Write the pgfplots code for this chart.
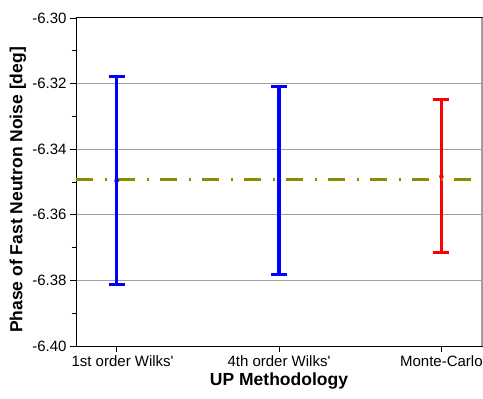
\documentclass[border=0pt]{standalone}
\usepackage{fontspec}
\setmainfont{Liberation Sans}
\usepackage{pgfplots}
\pgfplotsset{compat=1.18}
\usetikzlibrary{calc}
\definecolor{olivedd}{RGB}{140,140,0}
\definecolor{gridgray}{RGB}{160,160,160}
\begin{document}
\begin{tikzpicture}
\begin{axis}[
  scale only axis, width=406bp, height=328bp,
  xmin=-0.25, xmax=2.25, ymin=-6.40, ymax=-6.30,
  clip=false,
  xtick={0,1,2},
  xticklabels={{\hspace*{12bp}1st order Wilks\textquotesingle},{4th order Wilks\textquotesingle},{Monte-Carlo}},
  ytick={-6.40,-6.38,-6.36,-6.34,-6.32,-6.30},
  minor ytick={-6.39,-6.37,-6.35,-6.33,-6.31},
  ymajorgrids,
  major grid style={gridgray, line width=1bp},
  tick align=outside, major tick length=6bp, minor tick length=4bp,
  tick style={black, line width=0.8bp},
  xtick pos=bottom, ytick pos=left,
  axis line style={black, line width=1bp},
  ticklabel style={font=\fontsize{15bp}{18bp}\selectfont},
  yticklabel style={/pgf/number format/.cd, fixed, fixed zerofill, precision=2, assume math mode=true},
  label style={font=\bfseries\fontsize{17.5bp}{20bp}\selectfont},
  xlabel={UP Methodology},
  ylabel={Phase of Fast Neutron Noise [deg]},
  xlabel style={at={(rel axis cs:0.5,-0.1189)}, anchor=base},
  ylabel style={at={(rel axis cs:-0.1429,0.4756)}, anchor=center},
]
\addplot[blue, only marks, mark=none,
  error bars/.cd, y dir=both, y explicit,
  error bar style={line width=3.3bp, blue},
  error mark options={rotate=90, mark size=8bp, line width=3bp, blue}]
  coordinates {(0,-6.34965) +- (0,0.03175) (1,-6.3495) +- (0,0.0286)};
\addplot[red, only marks, mark=none,
  error bars/.cd, y dir=both, y explicit,
  error bar style={line width=3.3bp, red},
  error mark options={rotate=90, mark size=8bp, line width=3bp, red}]
  coordinates {(2,-6.3483) +- (0,0.0233)};
\addplot[olivedd, line width=3bp, dash pattern=on 17bp off 11.5bp on 2.5bp off 11bp]
  coordinates {(-0.25,-6.3493) (2.25,-6.3493)};
\coordinate (ll) at (rel axis cs:0,0);
\coordinate (ur) at (rel axis cs:1,1);
\coordinate (br) at (rel axis cs:1,0);
\end{axis}
\draw[gridgray, line width=1.2bp] (br) -- (ur);
\pgfresetboundingbox
\path ($(ll)+(-76bp,-53bp)$) rectangle ($(ur)+(1bp,18bp)$);
\end{tikzpicture}
\end{document}
